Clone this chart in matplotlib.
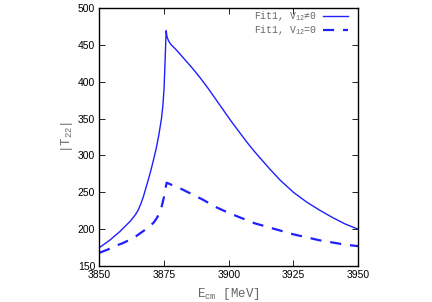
import matplotlib
matplotlib.use("Agg")
import matplotlib.pyplot as plt

# |T22| vs E_cm
e_fit = [3850, 3852, 3854, 3856, 3858, 3860, 3862, 3864, 3865, 3866,
         3867, 3868, 3869, 3870, 3871, 3872, 3873, 3874, 3874.5, 3875,
         3875.3, 3875.6, 3875.8, 3876.2, 3876.8, 3877.5, 3880, 3883, 3886,
         3889, 3892, 3895, 3898, 3901, 3904, 3907, 3910, 3913, 3916,
         3920, 3925, 3930, 3935, 3940, 3945, 3950]
t_fit = [175, 180, 185, 191, 197, 204, 211, 220, 226, 234,
         244, 256, 268, 281, 295, 310, 328, 350, 366, 390,
         418, 448, 469, 460, 455, 451, 442, 430, 418,
         405, 391, 376, 361, 346, 332, 318, 305, 293, 281,
         266, 250, 237, 226, 216, 207, 200]

e_nov = [3850, 3853, 3856, 3859, 3862, 3864, 3866, 3868, 3869.5, 3871,
         3872, 3873, 3874.1, 3875, 3875.5, 3876, 3878, 3882, 3886, 3890,
         3895, 3900, 3905, 3910, 3915, 3920, 3925, 3930, 3935, 3940,
         3945, 3950]
t_nov = [168, 172, 177, 181, 186, 190, 195, 200, 204, 209,
         214, 220, 231, 244, 254, 263, 260, 254, 247, 240,
         230, 222, 215, 208, 203, 198, 193, 189, 185, 182,
         179, 177]

xticks = [3850, 3875, 3900, 3925, 3950]
yticks = [150, 200, 250, 300, 350, 400, 450, 500]

mono = "Liberation Mono"
grey = "#666666"
plt.rcParams["mathtext.fontset"] = "custom"
plt.rcParams["mathtext.rm"] = mono
plt.rcParams["mathtext.it"] = mono
plt.rcParams["mathtext.default"] = "rm"

fig = plt.figure(figsize=(4.32, 3.02), dpi=100)
ax = fig.add_axes([0.230, 0.119, 0.599, 0.855])

ax.plot(e_fit, t_fit, color="#1f1fff", lw=1.0, label="Fit1, V$_{12}$≠0")
ax.plot(e_nov, t_nov, color="#1f1fff", lw=1.6, dashes=(5, 4),
        label="Fit1, V$_{12}$=0")

ax.set_xlim(3850, 3950)
ax.set_ylim(150, 500)
ax.set_xticks(xticks)
ax.set_yticks(yticks)
ax.tick_params(direction="in", length=4, width=0.6, top=True, right=True,
               labelsize=7.5, pad=3)
for lab in ax.get_xticklabels() + ax.get_yticklabels():
    lab.set_family("Liberation Sans")
for sp in ax.spines.values():
    sp.set_linewidth(1.0)

ax.set_xlabel("E$_{cm}$ [MeV]", family=[mono, "DejaVu Sans Mono"],
              fontsize=9, color=grey, labelpad=4)
ax.set_ylabel("|T$_{22}$|", family=[mono, "DejaVu Sans Mono"],
              fontsize=9, color=grey, labelpad=2)

leg = ax.legend(loc="upper right", bbox_to_anchor=(0.977, 1.01),
                frameon=False, markerfirst=False,
                handlelength=2.6, handletextpad=0.6, labelspacing=0.0,
                borderaxespad=0.0,
                prop={"family": [mono, "DejaVu Sans Mono"], "size": 7})
for t in leg.get_texts():
    t.set_color(grey)

fig.savefig("out.png", dpi=100)
